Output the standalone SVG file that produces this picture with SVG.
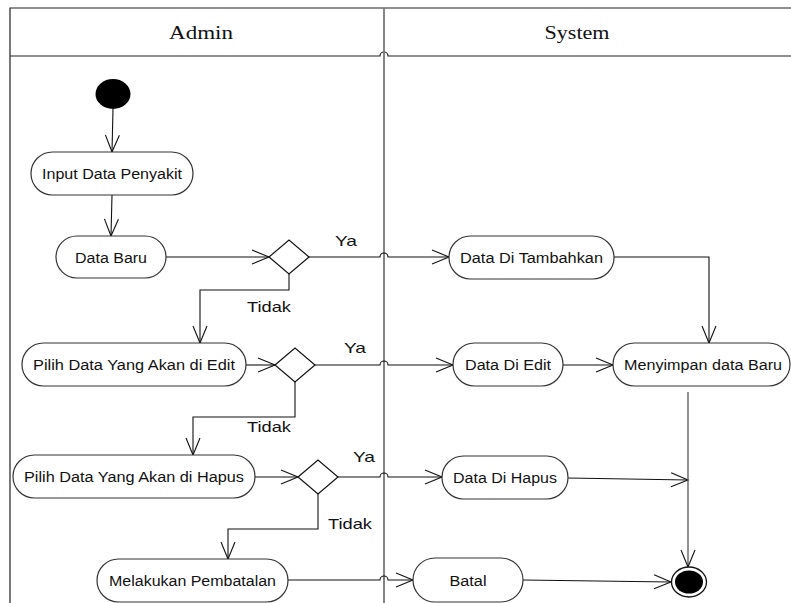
<svg xmlns="http://www.w3.org/2000/svg" width="791" height="603" viewBox="0 0 791 603">
<style>
.frame{fill:none;stroke:#222;stroke-width:1.2}
.divider{fill:none;stroke:#777;stroke-width:1.8}
.node{fill:#fff;stroke:#333;stroke-width:1.2}
.dec{fill:#fff;stroke:#111;stroke-width:1.2}
.ntext{font-family:"Liberation Sans",Arial,sans-serif;font-size:14px;fill:#111;text-anchor:middle}
.lbl{font-family:"Liberation Sans",Arial,sans-serif;font-size:15px;fill:#111}
.head{font-family:"Liberation Serif","Times New Roman",serif;font-size:19px;fill:#111;text-anchor:middle}
.conn{fill:none;stroke:#111;stroke-width:1.1;marker-end:url(#arr)}
.conn2{fill:none;stroke:#555;stroke-width:1.3;marker-end:url(#arr)}
</style>
<defs>
<marker id="arr" markerUnits="userSpaceOnUse" markerWidth="20" markerHeight="18" viewBox="0 0 20 18" refX="18" refY="9" orient="auto">
<path d="M1,2 L18,9 L1,16" fill="none" stroke="#111" stroke-width="1.1"/>
</marker>
</defs>
<rect width="791" height="603" fill="#fff"/>
<g id="swimlanes">
<path class="frame" d="M10,603 V8 H791"/>
<path class="frame" d="M10,56 H380 A4,4 0 0 1 388,56 H791"/>
<line class="divider" x1="384" y1="8" x2="384" y2="603"/>
<text class="head" x="201" y="39" textLength="64" lengthAdjust="spacingAndGlyphs">Admin</text>
<text class="head" x="577" y="39" textLength="65" lengthAdjust="spacingAndGlyphs">System</text>
</g>
<g id="connectors">
<path class="conn" d="M113,109 L112,152"/>
<path class="conn" d="M112,195 L111,236"/>
<path class="conn" d="M166,257 H269"/>
<path class="conn" d="M309,257 H380 A4,4 0 0 1 388,257 H449"/>
<path class="conn" d="M289,274 V290 H200 V343"/>
<path class="conn" d="M614,257 H709 V343"/>
<path class="conn" d="M246,365 H275"/>
<path class="conn" d="M315,365 H380 A4,4 0 0 1 388,365 H453"/>
<path class="conn" d="M563,365 H613"/>
<path class="conn" d="M295,382 V417 H193 V455"/>
<path class="conn" d="M255,477 H298"/>
<path class="conn" d="M338,477 H380 A4,4 0 0 1 388,477 H442"/>
<path class="conn" d="M318,494 V529 H228 V559"/>
<path class="conn" d="M568,478 L688,480"/>
<path class="conn2" d="M688,392 V567"/>
<path class="conn" d="M288,580 H380 A4,4 0 0 1 388,580 H413"/>
<path class="conn" d="M523,580 L671,582"/>
<text class="lbl" x="335" y="246" textLength="22" lengthAdjust="spacingAndGlyphs">Ya</text>
<text class="lbl" x="247" y="312" textLength="44" lengthAdjust="spacingAndGlyphs">Tidak</text>
<text class="lbl" x="344" y="353" textLength="22" lengthAdjust="spacingAndGlyphs">Ya</text>
<text class="lbl" x="247" y="432" textLength="44" lengthAdjust="spacingAndGlyphs">Tidak</text>
<text class="lbl" x="353" y="462" textLength="22" lengthAdjust="spacingAndGlyphs">Ya</text>
<text class="lbl" x="328" y="529" textLength="44" lengthAdjust="spacingAndGlyphs">Tidak</text>
</g>
<g id="start"><ellipse cx="113" cy="94" rx="17.5" ry="15" fill="#000"/></g>
<g id="input-data-penyakit"><rect class="node" x="31" y="152" width="162" height="43" rx="21.5"/><text class="ntext" x="112" y="179" textLength="140" lengthAdjust="spacingAndGlyphs">Input Data Penyakit</text></g>
<g id="data-baru"><rect class="node" x="56" y="236" width="110" height="42" rx="21"/><text class="ntext" x="111" y="262.5" textLength="72" lengthAdjust="spacingAndGlyphs">Data Baru</text></g>
<g id="decision-1"><polygon class="dec" points="269,257 289,240 309,257 289,274"/></g>
<g id="data-di-tambahkan"><rect class="node" x="449" y="236" width="165" height="43" rx="21.5"/><text class="ntext" x="531.5" y="262.5" textLength="143" lengthAdjust="spacingAndGlyphs">Data Di Tambahkan</text></g>
<g id="pilih-edit"><rect class="node" x="22" y="343" width="224" height="43" rx="21.5"/><text class="ntext" x="134" y="370" textLength="202" lengthAdjust="spacingAndGlyphs">Pilih Data Yang Akan di Edit</text></g>
<g id="decision-2"><polygon class="dec" points="275,365 295,348 315,365 295,382"/></g>
<g id="data-di-edit"><rect class="node" x="453" y="343" width="110" height="43" rx="21.5"/><text class="ntext" x="508" y="370" textLength="86" lengthAdjust="spacingAndGlyphs">Data Di Edit</text></g>
<g id="menyimpan-data-baru"><rect class="node" x="613" y="343" width="177" height="43" rx="21.5"/><text class="ntext" x="703" y="370" textLength="158" lengthAdjust="spacingAndGlyphs">Menyimpan data Baru</text></g>
<g id="pilih-hapus"><rect class="node" x="13" y="455" width="242" height="43" rx="21.5"/><text class="ntext" x="134" y="482" textLength="220" lengthAdjust="spacingAndGlyphs">Pilih Data Yang Akan di Hapus</text></g>
<g id="decision-3"><polygon class="dec" points="298,477 318,460 338,477 318,494"/></g>
<g id="data-di-hapus"><rect class="node" x="442" y="456" width="126" height="43" rx="21.5"/><text class="ntext" x="505" y="483" textLength="104" lengthAdjust="spacingAndGlyphs">Data Di Hapus</text></g>
<g id="melakukan-pembatalan"><rect class="node" x="97" y="559" width="191" height="43" rx="21.5"/><text class="ntext" x="192.5" y="586" textLength="167" lengthAdjust="spacingAndGlyphs">Melakukan Pembatalan</text></g>
<g id="batal"><rect class="node" x="413" y="558" width="110" height="44" rx="22"/><text class="ntext" x="468" y="585.5" textLength="37" lengthAdjust="spacingAndGlyphs">Batal</text></g>
<g id="end"><ellipse cx="689" cy="582" rx="17.5" ry="15" fill="#fff" stroke="#111" stroke-width="1.3"/><ellipse cx="689" cy="582" rx="14" ry="11.5" fill="#000"/></g>
</svg>
